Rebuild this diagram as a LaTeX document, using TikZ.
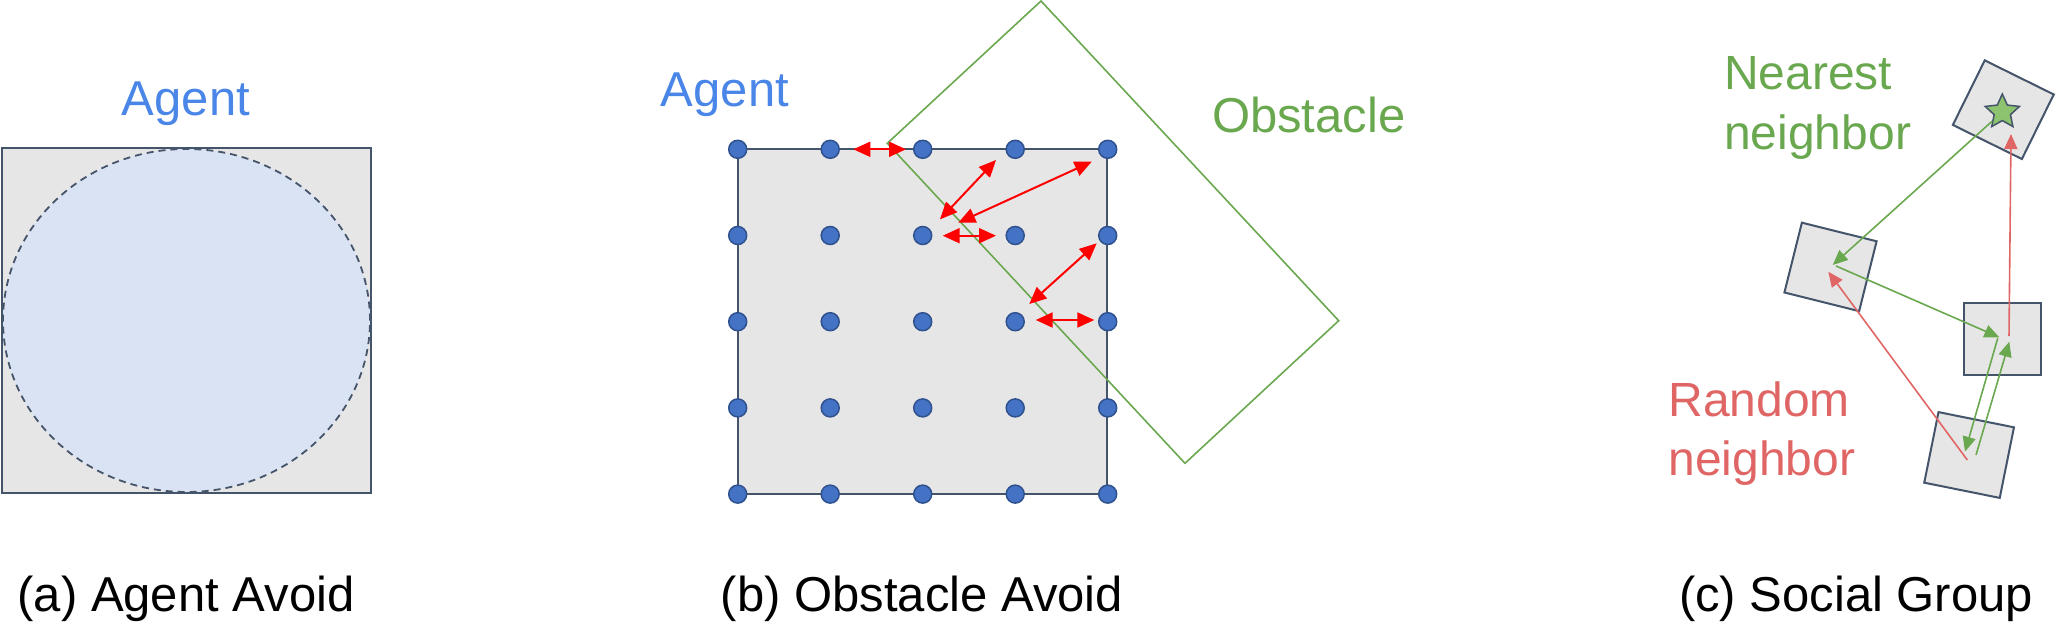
\documentclass[tikz,border=0pt]{standalone}
\usepackage{fontspec}
\setmainfont{Liberation Sans}
\usetikzlibrary{arrows.meta,shapes.geometric}
\definecolor{sqfill}{HTML}{E7E6E6}
\definecolor{sqdraw}{HTML}{44546A}
\definecolor{circfill}{HTML}{DAE3F3}
\definecolor{dotfill}{HTML}{4472C4}
\definecolor{dotdraw}{HTML}{2F528F}
\definecolor{agentblue}{HTML}{4A86E8}
\definecolor{obsgreen}{HTML}{6AA84F}
\definecolor{rndred}{HTML}{E06666}
\definecolor{starfill}{HTML}{8DC26F}
\begin{document}
\begin{tikzpicture}[x=1pt,y=-1pt,
  agentsq/.style={rectangle,draw=sqdraw,fill=sqfill,line width=2.2pt,inner sep=0pt,minimum width=369pt,minimum height=345pt},
  body/.style={ellipse,draw=sqdraw,fill=circfill,line width=1.8pt,dash pattern=on 7pt off 5pt,inner sep=0pt,minimum width=367pt,minimum height=343pt},
  dot/.style={circle,draw=dotdraw,fill=dotfill,line width=1.5pt,inner sep=0pt,minimum size=18pt},
  obstacle/.style={draw=obsgreen,line width=1.6pt},
  redarrow/.style={draw=red,line width=2pt,{Triangle[length=17pt,width=15pt]}-{Triangle[length=17pt,width=15pt]}},
  member/.style={rectangle,draw=sqdraw,fill=sqfill,line width=2pt,inner sep=0pt,minimum width=77pt,minimum height=72pt},
  garrow/.style={draw=obsgreen,line width=1.6pt,-{Triangle[length=15pt,width=13pt]}},
  rarrow/.style={draw=rndred,line width=1.6pt,-{Triangle[length=15pt,width=13pt]}},
  lbl/.style={inner sep=0pt,font=\fontsize{49}{60}\selectfont},
  caption/.style={inner sep=0pt,anchor=base,font=\fontsize{49}{60}\selectfont}]
\useasboundingbox (0,0) rectangle (2056,626);

% ---------- (a) Agent Avoid ----------
\node[agentsq] (sqa) at (186.5,320.5) {};
\node[body] (circa) at (sqa.center) {};
\node[lbl,anchor=base,text=agentblue] (agenta) at (186,115) {Agent};
\node[caption] (capa) at (186,611.7) {(a) Agent Avoid};

% ---------- (b) Obstacle Avoid ----------
\node[agentsq] (sqb) at (922.7,321.7) {};
\coordinate (ot) at (1041,1);
\coordinate (or) at (1338.7,320.7);
\coordinate (ob) at (1185,463.3);
\coordinate (ol) at (887.3,143.3);
\draw[obstacle] (ot) -- (or) -- (ob) -- (ol) -- cycle;
\foreach \i in {0,...,4}{
  \foreach \j in {0,...,4}{
    \node[dot] (d\i\j) at ({737.7+92.5*\i},{149.3+86.2*\j}) {};
  }
}
\coordinate (a1s) at (853.3,149.3);  \coordinate (a1e) at (906,149.3);
\coordinate (a2s) at (940,219.3);    \coordinate (a2e) at (996,160);
\coordinate (a3s) at (958.3,222.7);  \coordinate (a3e) at (1091.7,161.7);
\coordinate (a4s) at (942.7,235.7);  \coordinate (a4e) at (996,235.7);
\coordinate (a5s) at (1029.3,304);   \coordinate (a5e) at (1096.7,243.3);
\coordinate (a6s) at (1035.7,320);   \coordinate (a6e) at (1094.3,320);
\draw[redarrow] (a1s) -- (a1e);
\draw[redarrow] (a2s) -- (a2e);
\draw[redarrow] (a3s) -- (a3e);
\draw[redarrow] (a4s) -- (a4e);
\draw[redarrow] (a5s) -- (a5e);
\draw[redarrow] (a6s) -- (a6e);
\node[lbl,anchor=base,text=agentblue] (agentb) at (725,106.7) {Agent};
\node[lbl,anchor=base,text=obsgreen] (obslbl) at (1308.7,132.7) {Obstacle};
\node[caption] (capb) at (922,611.7) {(b) Obstacle Avoid};

% ---------- (c) Social Group ----------
\node[member,rotate=-26.3] (mt) at (2003.3,109.7) {};
\node[member,rotate=-14] (mm) at (1830.5,266.9) {};
\node[member] (mr) at (2002.8,338.7) {};
\node[member,rotate=-11.4] (mb) at (1969.1,455) {};
\node[star,star points=5,star point ratio=2.1,draw=sqdraw,fill=starfill,line width=1.5pt,inner sep=0pt,minimum size=36pt] (st) at (2002.3,112) {};
\coordinate (g1e) at (1832.7,265);
\coordinate (g2s) at (1836,266);   \coordinate (g2e) at (1999.3,337.3);
\coordinate (g3s) at (1997.7,338.3); \coordinate (g3e) at (1965,451.7);
\coordinate (g4s) at (1976,455);   \coordinate (g4e) at (2009.3,341.7);
\coordinate (r1s) at (2009,336);   \coordinate (r1e) at (2011,134);
\coordinate (r2s) at (1967.3,460); \coordinate (r2e) at (1828.3,271.7);
\draw[garrow] (st) -- (g1e);
\draw[garrow] (g2s) -- (g2e);
\draw[garrow] (g3s) -- (g3e);
\draw[garrow] (g4s) -- (g4e);
\draw[rarrow] (r1s) -- (r1e);
\draw[rarrow] (r2s) -- (r2e);
\node[lbl,anchor=north west,align=left,text=obsgreen,font=\fontsize{48}{60}\selectfont] (near) at (1724,56.7) {Nearest\\neighbor};
\node[lbl,anchor=north west,align=left,text=rndred,font=\fontsize{48}{59}\selectfont] (rand) at (1668.3,381.7) {Random\\neighbor};
\node[caption] (capc) at (1856,611.7) {(c) Social Group};
\end{tikzpicture}
\end{document}
